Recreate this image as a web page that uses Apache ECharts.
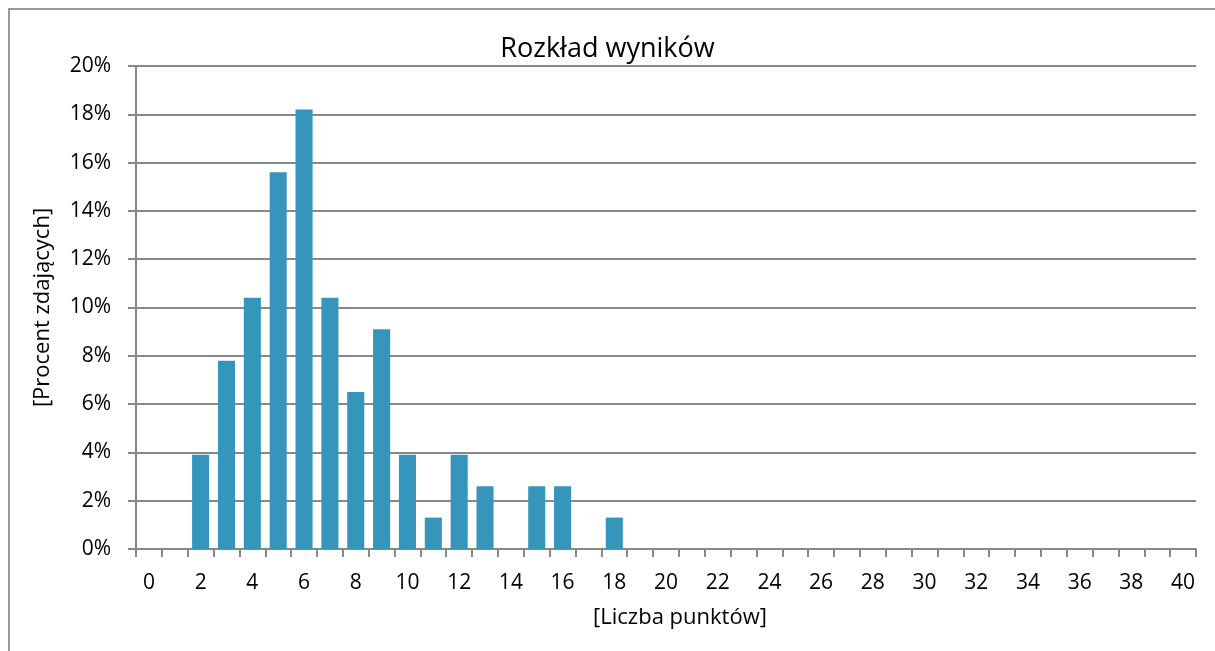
<!DOCTYPE html>
<html>
<head>
<meta charset="utf-8">
<script src="https://cdn.jsdelivr.net/npm/echarts@6/dist/echarts.min.js"></script>
<style>
  html, body { margin: 0; padding: 0; background: #fff; }
  #chart { width: 1215px; height: 651px; }
</style>
</head>
<body>
<div id="chart"></div>
<script>
// liczba punktów 0..40
const points = [];
for (let i = 0; i <= 40; i++) points.push(String(i));

// procent zdających dla punktów 0..18 (reszta = 0)
const percents = [0, 0, 3.9, 7.8, 10.4, 15.6, 18.2, 10.4, 6.5, 9.1, 3.9, 1.3, 3.9, 2.6, 0, 2.6, 2.6, 0, 1.3];

const yTicks = [0, 2, 4, 6, 8, 10, 12, 14, 16, 18, 20];

const seriesData = points.map((p, i) => (i < percents.length ? percents[i] : 0));

const fontFam = '"Open Sans", "DejaVu Sans", sans-serif';
const gray = '#888888';

const chart = echarts.init(document.getElementById('chart'));
chart.setOption({
  animation: false,
  graphic: [
    {
      type: 'rect',
      shape: { x: 9, y: 9, width: 1240, height: 680 },
      style: { fill: 'none', stroke: '#999', lineWidth: 2 }
    }
  ],
  title: {
    text: 'Rozkład wyników',
    left: 'center',
    top: 31,
    textStyle: { fontFamily: fontFam, fontSize: 27, fontWeight: 'normal', color: '#000' }
  },
  grid: { left: 136, right: 19, top: 66, bottom: 102 },
  xAxis: {
    type: 'category',
    data: points,
    name: '[Liczba punktów]',
    nameLocation: 'middle',
    nameGap: 58,
    nameTextStyle: { fontFamily: fontFam, fontSize: 22, color: '#000', padding: [0, 0, 0, 28] },
    axisLine: { lineStyle: { color: gray, width: 2 } },
    axisTick: { show: true, interval: 0, length: 8, lineStyle: { color: gray, width: 2 } },
    axisLabel: { interval: 1, margin: 24, fontFamily: fontFam, fontSize: 21, color: '#000' }
  },
  yAxis: {
    type: 'value',
    min: 0,
    max: 20,
    interval: 2,
    name: '[Procent zdających]',
    nameLocation: 'middle',
    nameGap: 82,
    nameTextStyle: { fontFamily: fontFam, fontSize: 22, color: '#000' },
    axisLine: { show: true, lineStyle: { color: gray, width: 2 } },
    axisTick: { show: true, length: 8, lineStyle: { color: gray, width: 2 } },
    axisLabel: {
      margin: 25,
      fontFamily: fontFam,
      fontSize: 21,
      color: '#000',
      formatter: v => (yTicks.includes(v) ? v + '%' : '')
    },
    splitLine: { lineStyle: { color: gray, width: 2 } }
  },
  series: [
    {
      type: 'bar',
      data: seriesData,
      barCategoryGap: '34%',
      itemStyle: { color: '#3595BA' }
    }
  ]
});
</script>
</body>
</html>
